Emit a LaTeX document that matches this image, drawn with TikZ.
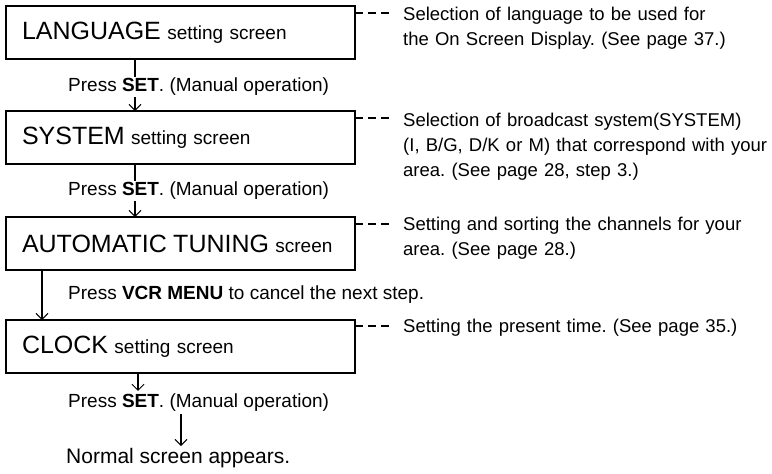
\documentclass[tikz,border=0pt]{standalone}
\usepackage{fontspec}
\setmainfont{Liberation Sans}
\usetikzlibrary{arrows.meta}
\newcommand\bigword[1]{{\fontsize{25}{30}\selectfont #1}}
\begin{document}
\frenchspacing
\begin{tikzpicture}[x=1pt,y=-1pt,
  box/.style={draw, line width=1.4pt, anchor=north west, minimum height=53pt,
    inner xsep=16pt, inner ysep=0pt, text width=317pt, align=left, outer sep=0pt,
    font=\fontsize{19}{23}\selectfont},
  flow/.style={line width=1.3pt, -{Straight Barb[length=6pt,width=12pt,line width=1pt]}},
  lead/.style={line width=1.3pt, dash pattern=on 8pt off 5pt},
  desc/.style={anchor=base west, inner sep=0pt, align=left, text width=400pt,
    font=\fontsize{18.5}{25}\selectfont},
  lab/.style={anchor=west, inner sep=1pt, fill=white, font=\fontsize{19}{23}\selectfont}]
\useasboundingbox (0,0) rectangle (772,474);

% boxes
\node[box] (b1) at (6,6)   {\bigword{LANGUAGE} setting screen};
\node[box] (b2) at (6,111) {\bigword{SYSTEM} setting screen};
\node[box] (b3) at (6,217) {\bigword{AUTOMATIC TUNING} screen};
\node[box] (b4) at (6,320) {\bigword{CLOCK} setting screen};

% flow arrows
\draw[flow] ([xshift=129pt]b1.south west) -- ([xshift=129pt]b2.north west);
\draw[flow] ([xshift=129pt]b2.south west) -- ([xshift=129pt]b3.north west);
\draw[flow] ([xshift=36pt]b3.south west) -- ([xshift=36pt]b4.north west);

% labels
\node[lab] (l1) at (67,87)  {Press \textbf{SET}. (Manual operation)};
\node[lab] (l2) at (67,191) {Press \textbf{SET}. (Manual operation)};
\node[lab] (l3) at (67,295) {Press \textbf{VCR MENU} to cancel the next step.};
\node[lab] (l4) at (67,403) {Press \textbf{SET}. (Manual operation)};
\node[lab, font=\fontsize{21}{25}\selectfont] (n) at (65,458) {Normal screen appears.};

\draw[flow] ([xshift=132pt]b4.south west) -- ([xshift=71pt,yshift=2pt]l4.north west);
\draw[flow] ([xshift=114pt,yshift=-1pt]l4.south west) -- ([xshift=116pt,yshift=1pt]n.north west);

% descriptions
\node[desc] (d1) at (403,20)  {Selection of language to be used for\\the On Screen Display. (See page 37.)};
\node[desc] (d2) at (403,126) {Selection of broadcast system(SYSTEM)\\(I, B/G, D/K or M) that correspond with your\\area. (See page 28, step 3.)};
\node[desc] (d3) at (403,230) {Setting and sorting the channels for your\\area. (See page 28.)};
\node[desc] (d4) at (403,332) {Setting the present time. (See page 35.)};

\draw[lead] ([yshift=-7pt]b1.north east) -- ++(35,0);
\draw[lead] ([yshift=-7pt]b2.north east) -- ++(35,0);
\draw[lead] ([yshift=-7pt]b3.north east) -- ++(35,0);
\draw[lead] ([yshift=-6pt]b4.north east) -- ++(35,0);
\end{tikzpicture}
\end{document}
